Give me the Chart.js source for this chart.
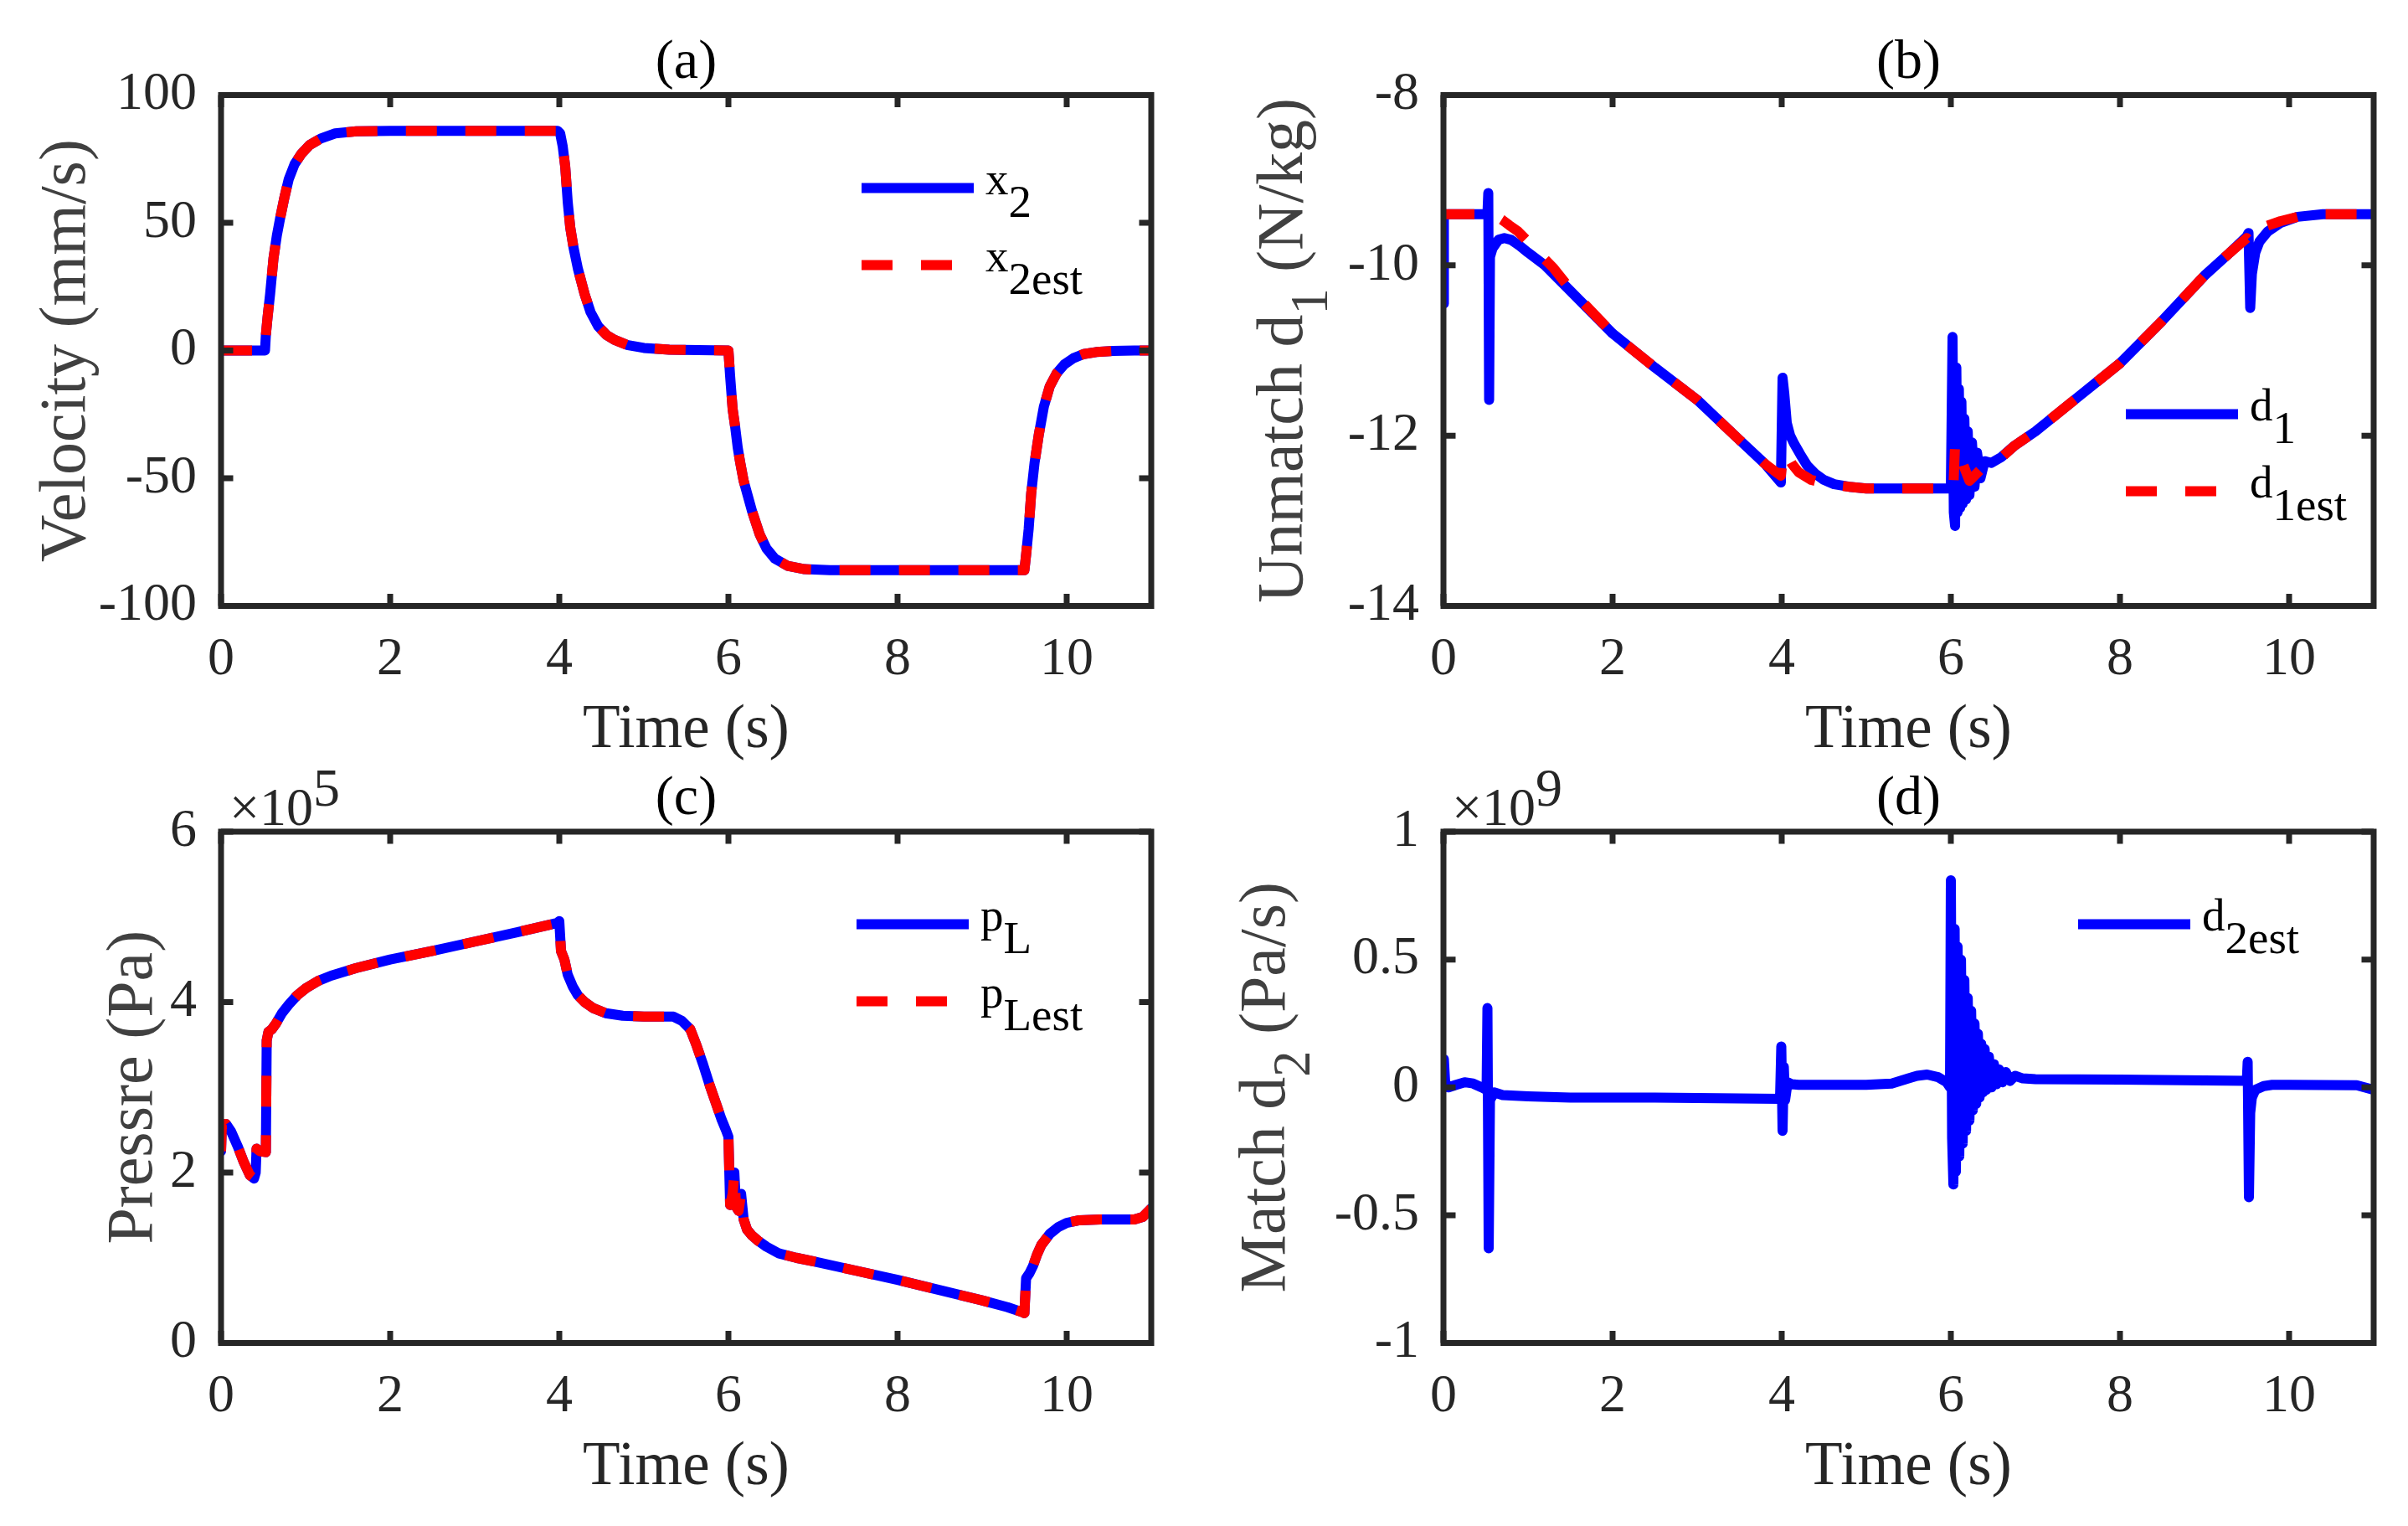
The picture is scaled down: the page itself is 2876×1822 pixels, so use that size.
<!DOCTYPE html>
<html>
<head>
<meta charset="utf-8">
<script src="https://cdn.jsdelivr.net/npm/chart.js@4.4.1/dist/chart.umd.min.js"></script>
<style>
  html, body { margin: 0; padding: 0; background: #fff; overflow: hidden; }
  canvas { position: absolute; }
</style>
</head>
<body>
<canvas id="chartA" width="1438" height="911" style="left:0px;top:0px"></canvas>
<canvas id="chartB" width="1438" height="911" style="left:1438px;top:0px"></canvas>
<canvas id="chartC" width="1438" height="911" style="left:0px;top:911px"></canvas>
<canvas id="chartD" width="1438" height="911" style="left:1438px;top:911px"></canvas>
<script>
"use strict";

// (a) velocity x2 and its estimate (mm/s)
const tA = [0, 0.52, 0.53, 0.55, 0.58, 0.62, 0.66, 0.70, 0.75, 0.80,
  0.87, 0.95, 1.05, 1.18, 1.35, 1.60, 2.00, 3.00, 3.98, 4.01,
  4.04, 4.07, 4.10, 4.13, 4.17, 4.22, 4.30, 4.37, 4.46, 4.56,
  4.65, 4.80, 5.00, 5.30, 6.00, 6.02, 6.05, 6.08, 6.11, 6.14,
  6.18, 6.23, 6.28, 6.33, 6.37, 6.45, 6.55, 6.70, 6.90, 7.20,
  8.00, 9.00, 9.50, 9.52, 9.55, 9.58, 9.62, 9.67, 9.73, 9.80,
  9.88, 9.97, 10.08, 10.20, 10.35, 10.55, 10.80, 11.00];
const x2 = [0, 0, 6, 13, 22, 36, 45, 52, 60, 67,
  73, 77, 80.5, 83, 85, 85.8, 86, 86, 86, 85,
  80, 72, 58, 48, 40, 32, 22, 15, 9.5, 6,
  4.2, 2.2, 1, 0.3, 0, -10, -23, -30, -38, -44,
  -51, -57, -63, -68, -72, -77.5, -81.5, -84.3, -85.6, -86,
  -86, -86, -86, -80, -70, -56, -44, -33, -22, -14,
  -9, -5.5, -3, -1.4, -0.6, -0.2, 0, 0];
const x2est = [0, 0, 6, 13, 22, 36, 45, 52, 60, 67,
  73, 77, 80.5, 83, 85, 85.8, 86, 86, 86, 85,
  80, 72, 58, 48, 40, 32, 22, 15, 9.5, 6,
  4.2, 2.2, 1, 0.3, 0, -10, -23, -30, -38, -44,
  -51, -57, -63, -68, -72, -77.5, -81.5, -84.3, -85.6, -86,
  -86, -86, -86, -80, -70, -56, -44, -33, -22, -14,
  -9, -5.5, -3, -1.4, -0.6, -0.2, 0, 0];

// (b) unmatched disturbance d1 (N/kg)
const tB = [0, 0.005, 0.52, 0.53, 0.54, 0.55, 0.58, 0.65, 0.72, 0.80,
  0.90, 1.00, 1.20, 1.50, 2.00, 2.50, 3.00, 3.50, 3.80, 3.99,
  4.01, 4.03, 4.06, 4.10, 4.15, 4.22, 4.30, 4.40, 4.50, 4.62,
  4.80, 5.00, 6.00, 6.02, 6.035, 6.05, 6.065, 6.08, 6.095, 6.11,
  6.125, 6.14, 6.16, 6.18, 6.20, 6.22, 6.25, 6.28, 6.31, 6.35,
  6.40, 6.48, 6.60, 6.75, 7.00, 7.50, 8.00, 8.50, 9.00, 9.30,
  9.50, 9.52, 9.54, 9.56, 9.60, 9.65, 9.75, 9.90, 10.10, 10.40,
  11.00];
const d1 = [-10.45, -9.4, -9.4, -9.15, -11.58, -9.9, -9.8, -9.7, -9.68, -9.7,
  -9.77, -9.85, -10.0, -10.3, -10.8, -11.2, -11.58, -12.05, -12.33, -12.55,
  -11.32, -11.5, -11.85, -12.0, -12.1, -12.22, -12.35, -12.45, -12.52, -12.57,
  -12.6, -12.62, -12.62, -10.84, -12.9, -13.06, -11.2, -12.9, -11.45, -12.85,
  -11.6, -12.8, -11.8, -12.75, -11.95, -12.7, -12.08, -12.6, -12.2, -12.5,
  -12.3, -12.32, -12.25, -12.12, -11.95, -11.55, -11.15, -10.65, -10.12, -9.85,
  -9.66, -9.62, -10.5, -10.1, -9.85, -9.72, -9.6, -9.5, -9.43, -9.4,
  -9.4];
const tBest = [0, 0.55, 0.62, 0.70, 0.78, 0.88, 1.00, 1.15, 1.30, 1.50,
  2.00, 2.50, 3.00, 3.50, 3.80, 3.99, 4.02, 4.06, 4.12, 4.20,
  4.35, 4.60, 4.80, 5.00, 6.03, 6.05, 6.10, 6.15, 6.22, 6.27,
  6.35, 6.45, 6.55, 6.75, 7.00, 7.50, 8.00, 8.50, 9.00, 9.30,
  9.50, 9.54, 9.58, 9.70, 9.90, 10.10, 10.40, 11.00];
const d1est = [-9.4, -9.4, -9.42, -9.47, -9.53, -9.6, -9.72, -9.88, -10.03, -10.28,
  -10.8, -11.2, -11.58, -12.05, -12.33, -12.47, -12.2, -12.22, -12.33, -12.43,
  -12.52, -12.58, -12.6, -12.62, -12.62, -12.1, -12.15, -12.35, -12.53, -12.48,
  -12.4, -12.35, -12.3, -12.12, -11.95, -11.55, -11.15, -10.65, -10.12, -9.85,
  -9.68, -9.72, -9.62, -9.55, -9.48, -9.43, -9.4, -9.4];

// (c) load pressure pL and its estimate (x 1e5 Pa)
const tC = [0, 0.01, 0.06, 0.12, 0.20, 0.27, 0.34, 0.39, 0.41, 0.42,
  0.46, 0.53, 0.54, 0.56, 0.60, 0.65, 0.72, 0.80, 0.90, 1.00,
  1.15, 1.30, 1.60, 2.00, 2.50, 3.00, 3.50, 3.98, 4.00, 4.02,
  4.06, 4.10, 4.16, 4.22, 4.30, 4.40, 4.55, 4.75, 5.00, 5.35,
  5.45, 5.55, 5.62, 5.70, 5.78, 5.85, 5.92, 5.97, 6.00, 6.02,
  6.05, 6.07, 6.09, 6.12, 6.15, 6.18, 6.22, 6.28, 6.35, 6.45,
  6.60, 6.80, 7.00, 7.50, 8.00, 8.50, 9.00, 9.30, 9.48, 9.50,
  9.52, 9.56, 9.60, 9.65, 9.70, 9.80, 9.90, 10.00, 10.15, 10.40,
  10.80, 10.90, 11.00];
const pL = [2.25, 2.56, 2.57, 2.48, 2.3, 2.12, 1.97, 1.93, 2.0, 2.28,
  2.25, 2.24, 3.55, 3.65, 3.68, 3.75, 3.87, 3.97, 4.08, 4.16,
  4.25, 4.31, 4.4, 4.5, 4.6, 4.71, 4.82, 4.93, 4.95, 4.6,
  4.5, 4.32, 4.18, 4.08, 4.0, 3.93, 3.87, 3.84, 3.83, 3.83,
  3.78, 3.68, 3.5, 3.27, 3.02, 2.82, 2.62, 2.5, 2.42, 1.62,
  1.75, 2.0, 1.6, 1.55, 1.75, 1.45, 1.33, 1.26, 1.2, 1.13,
  1.05, 1.0, 0.96, 0.85, 0.74, 0.62, 0.5, 0.42, 0.36, 0.35,
  0.76, 0.82, 0.9, 1.04, 1.15, 1.28, 1.36, 1.41, 1.44, 1.45,
  1.45, 1.48, 1.58];
const pLest = [2.25, 2.56, 2.57, 2.48, 2.3, 2.12, 1.97, 1.93, 2.0, 2.28,
  2.25, 2.24, 3.55, 3.65, 3.68, 3.75, 3.87, 3.97, 4.08, 4.16,
  4.25, 4.31, 4.4, 4.5, 4.6, 4.71, 4.82, 4.93, 4.95, 4.6,
  4.5, 4.32, 4.18, 4.08, 4.0, 3.93, 3.87, 3.84, 3.83, 3.83,
  3.78, 3.68, 3.5, 3.27, 3.02, 2.82, 2.62, 2.5, 2.42, 1.62,
  1.75, 2.0, 1.6, 1.55, 1.75, 1.45, 1.33, 1.26, 1.2, 1.13,
  1.05, 1.0, 0.96, 0.85, 0.74, 0.62, 0.5, 0.42, 0.36, 0.35,
  0.76, 0.82, 0.9, 1.04, 1.15, 1.28, 1.36, 1.41, 1.44, 1.45,
  1.45, 1.48, 1.58];

// (d) matched disturbance estimate d2est (x 1e9 Pa/s)
const tD = [0, 0.005, 0.02, 0.06, 0.15, 0.25, 0.35, 0.45, 0.51, 0.52,
  0.535, 0.55, 0.60, 0.70, 1.00, 1.50, 2.50, 3.50, 3.98, 3.995,
  4.01, 4.025, 4.04, 4.07, 4.12, 4.20, 5.00, 5.30, 5.50, 5.60,
  5.72, 5.85, 5.95, 5.99, 6.00, 6.015, 6.03, 6.045, 6.06, 6.08,
  6.10, 6.12, 6.14, 6.16, 6.18, 6.20, 6.22, 6.24, 6.26, 6.28,
  6.30, 6.32, 6.34, 6.36, 6.38, 6.40, 6.42, 6.45, 6.48, 6.51,
  6.54, 6.57, 6.61, 6.65, 6.70, 6.76, 6.85, 7.00, 8.00, 9.00,
  9.50, 9.51, 9.525, 9.54, 9.56, 9.60, 9.70, 9.80, 10.00, 10.80,
  11.00];
const d2est = [0, 0.11, 0.02, 0.0, 0.01, 0.02, 0.015, 0.0, -0.01, 0.31,
  -0.63, -0.05, -0.02, -0.03, -0.035, -0.04, -0.04, -0.043, -0.045, 0.16,
  -0.17, 0.08, -0.05, 0.02, 0.012, 0.01, 0.01, 0.015, 0.035, 0.045,
  0.05, 0.04, 0.02, 0.0, 0.81, -0.2, -0.38, 0.62, -0.33, 0.55,
  -0.27, 0.5, -0.22, 0.42, -0.17, 0.35, -0.13, 0.30, -0.09, 0.25,
  -0.065, 0.21, -0.04, 0.17, -0.02, 0.15, -0.01, 0.12, 0.0, 0.09,
  0.012, 0.07, 0.02, 0.06, 0.025, 0.045, 0.035, 0.032, 0.03, 0.027,
  0.025, 0.1, -0.43, -0.1, -0.04, -0.01, 0.005, 0.01, 0.01, 0.008,
  -0.01];

const timeTicks = [0, 2, 4, 6, 8, 10];

const font = "'Liberation Serif', 'Times New Roman', serif";
const ink = "#262626";
Chart.defaults.font.family = font;

function pairs(t, v) {
  return t.map((x, i) => ({ x: x, y: v[i] }));
}

function solid(t, v) {
  return {
    data: pairs(t, v), borderColor: "#0000ff", borderWidth: 12,
    borderJoinStyle: "round", borderCapStyle: "round",
    pointRadius: 0, tension: 0, order: 1
  };
}

function dashed(t, v) {
  return {
    data: pairs(t, v), borderColor: "#ff0000", borderWidth: 12,
    borderDash: [37, 34], borderJoinStyle: "round", borderCapStyle: "butt",
    pointRadius: 0, tension: 0, order: 0
  };
}

// box round the axes with inward ticks on all four sides
const framePlugin = {
  id: "frame",
  afterDatasetsDraw(chart) {
    const { ctx, chartArea: a, scales } = chart;
    ctx.save();
    ctx.strokeStyle = ink;
    ctx.lineWidth = 7;
    ctx.beginPath();
    scales.x.ticks.forEach((tk) => {
      const px = scales.x.getPixelForValue(tk.value);
      ctx.moveTo(px, a.bottom); ctx.lineTo(px, a.bottom - 14.5);
      ctx.moveTo(px, a.top); ctx.lineTo(px, a.top + 14.5);
    });
    scales.y.ticks.forEach((tk) => {
      const py = scales.y.getPixelForValue(tk.value);
      ctx.moveTo(a.left, py); ctx.lineTo(a.left + 14.5, py);
      ctx.moveTo(a.right, py); ctx.lineTo(a.right - 14.5, py);
    });
    ctx.stroke();
    ctx.strokeRect(a.left, a.top, a.right - a.left, a.bottom - a.top);
    ctx.restore();
  }
};

// text made of pieces: [text, kind] with kind "" / "sub" / "sup"
function partsWidth(ctx, parts, size, subScale) {
  let w = 0;
  parts.forEach(([txt, kind]) => {
    const s = kind ? size * subScale : size;
    ctx.font = `${s}px ${font}`;
    w += ctx.measureText(txt).width;
  });
  return w;
}

function drawParts(ctx, x, y, parts, size, subScale, shift) {
  ctx.textAlign = "left";
  ctx.textBaseline = "alphabetic";
  parts.forEach(([txt, kind]) => {
    const s = kind ? size * subScale : size;
    ctx.font = `${s}px ${font}`;
    let dy = 0;
    if (kind === "sub") dy = shift;
    if (kind === "sup") dy = -shift;
    ctx.fillText(txt, x, y + dy);
    x += ctx.measureText(txt).width;
  });
}

function decoPlugin(cfg) {
  return {
    id: "deco",
    afterDraw(chart) {
      const { ctx, chartArea: a } = chart;
      const cx = (a.left + a.right) / 2;
      const cy = (a.top + a.bottom) / 2;
      ctx.save();

      // panel title
      ctx.fillStyle = "#000";
      ctx.font = `66px ${font}`;
      ctx.textAlign = "center";
      ctx.textBaseline = "alphabetic";
      ctx.fillText(cfg.title, cx, a.top - 21);

      // x axis title
      ctx.fillStyle = ink;
      ctx.font = `73px ${font}`;
      ctx.fillText("Time (s)", cx, a.bottom + 168.5);

      // y axis title, rotated
      ctx.save();
      ctx.translate(cfg.yTitleX, cy);
      ctx.rotate(-Math.PI / 2);
      ctx.fillStyle = "#404040";
      const yw = partsWidth(ctx, cfg.yTitle, 78, 0.8);
      drawParts(ctx, -yw / 2, 0, cfg.yTitle, 78, 0.8, 30);
      ctx.restore();

      // exponent above the y axis
      if (cfg.expo) {
        ctx.fillStyle = ink;
        drawParts(ctx, a.left + 10, a.top - 8, [["\u00d710", ""], [cfg.expo, "sup"]], 64, 1, 23);
      }

      // legend
      ctx.fillStyle = "#000";
      cfg.legend.forEach((item, i) => {
        const lx = cfg.legendX;
        const ly = cfg.legendY + i * 92;
        ctx.save();
        ctx.lineWidth = 12;
        ctx.strokeStyle = item.color;
        ctx.lineCap = "butt";
        if (item.dash) ctx.setLineDash([37, 34]);
        ctx.beginPath();
        ctx.moveTo(lx, ly);
        ctx.lineTo(lx + 134, ly);
        ctx.stroke();
        ctx.restore();
        drawParts(ctx, lx + 148, ly + 7.5, item.label, 55, 1, 27);
      });

      ctx.restore();
    }
  };
}

function makeChart(cfg) {
  return new Chart(document.getElementById(cfg.id), {
    type: "line",
    data: { datasets: cfg.datasets },
    options: {
      responsive: false,
      devicePixelRatio: 1,
      animation: false,
      events: [],
      layout: { padding: cfg.padding },
      plugins: { legend: { display: false }, tooltip: { enabled: false } },
      scales: {
        x: {
          type: "linear", min: 0, max: 11,
          afterBuildTicks: (s) => { s.ticks = timeTicks.map((v) => ({ value: v })); },
          ticks: { font: { size: 64 }, color: ink, padding: 26, maxRotation: 0, autoSkip: false, callback: (v) => String(v) },
          grid: { display: false, drawTicks: false },
          border: { display: false },
          afterFit: (s) => { s.height = 120; }
        },
        y: {
          type: "linear", min: cfg.yMin, max: cfg.yMax,
          afterBuildTicks: (s) => { s.ticks = cfg.yTicks.map((v) => ({ value: v })); },
          ticks: { font: { size: 64 }, color: ink, padding: 29, callback: (v) => String(v) },
          grid: { display: false, drawTicks: false },
          border: { display: false },
          afterFit: (s) => { s.width = cfg.yWidth; }
        }
      }
    },
    plugins: [framePlugin, decoPlugin(cfg)]
  });
}

makeChart({
  id: "chartA",
  datasets: [solid(tA, x2), dashed(tA, x2est)],
  yMin: -100, yMax: 100, yTicks: [-100, -50, 0, 50, 100],
  padding: { left: 0, top: 113.5, right: 63, bottom: 67.5 }, yWidth: 264,
  title: "(a)", yTitleX: 101, yTitle: [["Velocity (mm/s)", ""]],
  legendX: 1029, legendY: 224.5,
  legend: [
    { color: "#0000ff", dash: false, label: [["x", ""], ["2", "sub"]] },
    { color: "#ff0000", dash: true, label: [["x", ""], ["2est", "sub"]] }
  ]
});

makeChart({
  id: "chartB",
  datasets: [solid(tB, d1), dashed(tBest, d1est)],
  yMin: -14, yMax: -8, yTicks: [-14, -12, -10, -8],
  padding: { left: 0, top: 113.5, right: 41, bottom: 67.5 }, yWidth: 286,
  title: "(b)", yTitleX: 117, yTitle: [["Unmatch d", ""], ["1", "sub"], [" (N/kg)", ""]],
  legendX: 1101, legendY: 494.5,
  legend: [
    { color: "#0000ff", dash: false, label: [["d", ""], ["1", "sub"]] },
    { color: "#ff0000", dash: true, label: [["d", ""], ["1est", "sub"]] }
  ]
});

makeChart({
  id: "chartC",
  datasets: [solid(tC, pL), dashed(tC, pLest)],
  yMin: 0, yMax: 6, yTicks: [0, 2, 4, 6],
  padding: { left: 0, top: 82, right: 63, bottom: 98.5 }, yWidth: 264,
  title: "(c)", yTitleX: 181, yTitle: [["Pressre (Pa)", ""]], expo: "5",
  legendX: 1023, legendY: 192.6,
  legend: [
    { color: "#0000ff", dash: false, label: [["p", ""], ["L", "sub"]] },
    { color: "#ff0000", dash: true, label: [["p", ""], ["Lest", "sub"]] }
  ]
});

makeChart({
  id: "chartD",
  datasets: [solid(tD, d2est)],
  yMin: -1, yMax: 1, yTicks: [-1, -0.5, 0, 0.5, 1],
  padding: { left: 0, top: 82, right: 41, bottom: 98.5 }, yWidth: 286,
  title: "(d)", yTitleX: 96, yTitle: [["Match d", ""], ["2", "sub"], [" (Pa/s)", ""]], expo: "9",
  legendX: 1044, legendY: 192.6,
  legend: [
    { color: "#0000ff", dash: false, label: [["d", ""], ["2est", "sub"]] }
  ]
});
</script>
</body>
</html>
